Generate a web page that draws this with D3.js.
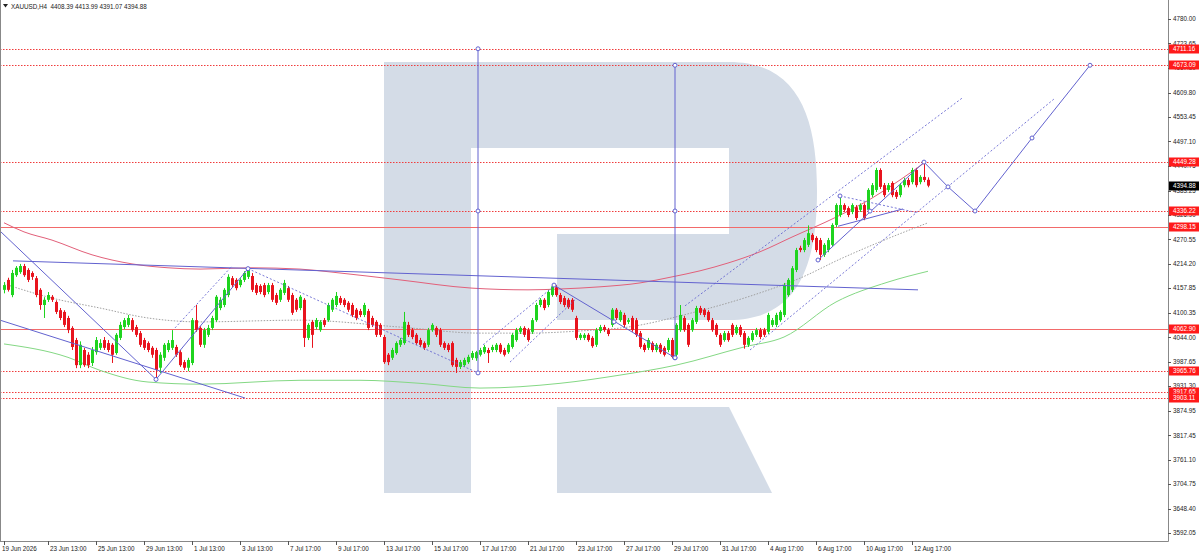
<!DOCTYPE html>
<html>
<head>
<meta charset="utf-8">
<script src="https://cdn.jsdelivr.net/npm/d3@7"></script>
<style>
  body { margin: 0; background: #fff; }
  svg { display: block; font-family: "Liberation Sans", Arial, sans-serif; }
</style>
</head>
<body>
<svg id="chart" width="1200" height="555"></svg>
<script>
// XAUUSD H4 candles, [open, high, low, close]
const candles = [
  [4154,4172,4146,4165],[4177,4182,4150,4154],[4142,4200,4137,4193],[4188,4209,4184,4205],
  [4195,4214,4191,4209],[4209,4214,4184,4188],[4200,4204,4172,4177],[4193,4197,4177,4184],
  [4181,4186,4137,4142],[4154,4158,4108,4119],[4119,4137,4089,4131],[4131,4149,4126,4142],
  [4138,4142,4126,4131],[4126,4130,4098,4103],[4107,4112,4084,4089],[4103,4107,4068,4073],
  [4089,4094,4054,4061],[4066,4070,4015,4022],[4038,4043,3973,3980],[3980,4035,3973,4027],
  [4015,4020,3976,3980],[4004,4010,3973,3980],[3985,4022,3978,4015],[4010,4045,4004,4038],
  [4020,4040,4015,4031],[4038,4045,4015,4020],[4031,4038,4010,4015],[4027,4031,3985,4004],
  [4008,4054,4004,4050],[4043,4080,4038,4073],[4068,4089,4063,4084],[4073,4096,4068,4089],
  [4084,4089,4057,4061],[4068,4073,4045,4050],[4054,4059,4022,4027],[4038,4043,4015,4020],
  [4031,4035,4010,4015],[4020,4024,3997,4004],[4015,4020,3947,3969],[3974,4010,3962,4004],
  [3997,4031,3990,4027],[4015,4038,4010,4031],[4020,4061,4015,4038],[4022,4027,3999,4004],
  [4010,4015,3976,3980],[3987,3992,3969,3974],[3974,3997,3966,3992],[3985,4089,3980,4084],
  [4084,4119,4057,4061],[4066,4070,4022,4027],[4027,4066,4020,4061],[4050,4073,4045,4066],
  [4066,4094,4061,4089],[4084,4142,4080,4138],[4112,4137,4107,4131],[4119,4158,4114,4154],
  [4142,4190,4137,4184],[4181,4186,4160,4165],[4177,4181,4153,4158],[4165,4181,4160,4177],
  [4177,4197,4172,4193],[4184,4204,4179,4200],[4186,4193,4149,4154],[4165,4170,4142,4147],
  [4163,4167,4144,4149],[4165,4170,4137,4142],[4149,4170,4144,4165],[4165,4170,4126,4131],
  [4142,4147,4119,4124],[4131,4158,4126,4154],[4147,4177,4142,4170],[4158,4163,4126,4131],
  [4142,4147,4096,4101],[4131,4135,4103,4108],[4112,4142,4107,4138],[4131,4135,4022,4043],
  [4043,4077,4038,4073],[4080,4084,4020,4050],[4068,4089,4063,4084],[4061,4084,4057,4080],
  [4084,4089,4068,4073],[4084,4124,4080,4119],[4108,4135,4103,4131],[4119,4149,4114,4140],
  [4135,4140,4119,4124],[4131,4135,4114,4119],[4124,4128,4103,4108],[4119,4124,4091,4096],
  [4108,4112,4084,4089],[4105,4110,4091,4096],[4096,4124,4091,4119],[4105,4110,4061,4066],
  [4089,4094,4068,4073],[4080,4084,4045,4050],[4073,4077,4045,4050],[4045,4050,3983,3987],
  [4004,4008,3980,3987],[3997,4020,3992,4015],[4008,4035,4004,4031],[4027,4043,4022,4038],
  [4031,4103,4027,4080],[4073,4080,4045,4050],[4061,4066,4040,4045],[4050,4054,4027,4031],
  [4038,4043,4022,4027],[4031,4035,4015,4020],[4027,4066,4022,4061],[4061,4077,4057,4073],
  [4066,4070,4045,4050],[4061,4066,4022,4027],[4031,4035,4015,4020],[4027,4031,4010,4015],
  [4031,4035,3976,3980],[3992,3997,3962,3976],[3976,3992,3971,3987],[3980,3997,3976,3992],
  [3987,4004,3983,3999],[3997,4013,3992,4008],[3996,4013,3990,4010],[4004,4020,4000,4015],
  [4010,4027,4006,4022],[4015,4020,3985,4008],[4015,4027,4010,4022],[4015,4031,4010,4027],
  [4027,4031,4006,4010],[4015,4020,4000,4004],[4010,4031,4006,4027],[4022,4054,4018,4050],
  [4038,4066,4034,4061],[4057,4070,4052,4066],[4066,4070,4045,4050],[4061,4066,4034,4038],
  [4057,4089,4052,4084],[4084,4124,4080,4119],[4119,4135,4114,4131],[4131,4135,4107,4112],
  [4119,4154,4114,4149],[4142,4166,4138,4162],[4160,4165,4138,4142],[4142,4147,4121,4126],
  [4135,4140,4114,4119],[4131,4135,4110,4114],[4131,4135,4103,4108],[4089,4094,4038,4043],
  [4043,4054,4038,4050],[4043,4054,4038,4050],[4050,4054,4034,4038],[4043,4047,4020,4024],
  [4027,4066,4022,4061],[4059,4073,4054,4068],[4068,4073,4057,4061],[4061,4066,4047,4052],
  [4073,4112,4068,4108],[4108,4112,4084,4089],[4084,4107,4080,4103],[4096,4101,4068,4073],
  [4080,4089,4075,4084],[4089,4094,4057,4061],[4084,4089,4045,4050],[4054,4059,4018,4022],
  [4027,4031,4010,4015],[4020,4043,4015,4038],[4031,4035,4010,4015],[4015,4031,4010,4027],
  [4027,4031,4006,4010],[4020,4024,4000,4004],[4015,4043,4010,4038],[4038,4043,3996,3999],
  [4004,4077,3999,4073],[4061,4119,4057,4096],[4089,4094,4057,4061],[4073,4077,4022,4027],
  [4061,4089,4057,4084],[4080,4117,4075,4112],[4112,4117,4096,4101],[4108,4112,4091,4096],
  [4103,4107,4080,4084],[4084,4089,4057,4061],[4073,4077,4045,4050],[4050,4054,4022,4027],
  [4038,4059,4034,4054],[4054,4059,4034,4038],[4073,4077,4045,4050],[4054,4073,4050,4068],
  [4068,4073,4045,4050],[4054,4059,4018,4027],[4027,4047,4022,4043],[4038,4059,4034,4054],
  [4050,4066,4045,4061],[4061,4066,4040,4045],[4061,4066,4045,4050],[4057,4101,4052,4096],
  [4073,4089,4068,4084],[4073,4101,4068,4096],[4084,4107,4080,4103],[4096,4170,4091,4165],
  [4142,4181,4138,4177],[4154,4209,4149,4204],[4200,4251,4195,4246],[4251,4256,4241,4246],
  [4246,4274,4241,4269],[4258,4303,4253,4285],[4281,4285,4264,4269],[4274,4278,4241,4246],
  [4269,4274,4223,4235],[4235,4262,4230,4258],[4246,4274,4241,4269],[4258,4308,4253,4304],
  [4304,4354,4299,4350],[4327,4373,4322,4350],[4350,4354,4334,4339],[4343,4347,4322,4327],
  [4334,4354,4329,4350],[4345,4350,4315,4320],[4339,4354,4334,4350],[4350,4354,4315,4320],
  [4339,4389,4334,4385],[4373,4401,4368,4396],[4385,4436,4380,4431],[4431,4435,4387,4392],
  [4396,4401,4368,4373],[4385,4401,4380,4396],[4401,4405,4368,4373],[4380,4385,4364,4369],
  [4373,4401,4368,4396],[4396,4413,4391,4408],[4408,4413,4391,4396],[4403,4436,4398,4431],
  [4431,4436,4391,4396],[4403,4419,4398,4415],[4415,4449,4403,4408],[4408.39,4413.99,4391.07,4394.88]
];

// time axis: bar index of each label
const timeTickIdx = [0, 11, 23, 35, 47, 59, 71, 83, 95, 107, 119, 131, 143, 155, 167, 179, 191, 203, 215, 227];
const timeTickLabels = ["19 Jun 2026", "23 Jun 13:00", "25 Jun 13:00", "29 Jun 13:00", "1 Jul 13:00", "3 Jul 13:00",
  "7 Jul 17:00", "9 Jul 17:00", "13 Jul 17:00", "15 Jul 17:00", "17 Jul 17:00", "21 Jul 17:00", "23 Jul 17:00",
  "27 Jul 17:00", "29 Jul 17:00", "31 Jul 17:00", "4 Aug 17:00", "6 Aug 17:00", "10 Aug 17:00", "12 Aug 17:00"];

const priceTicks = [4780.00, 4723.65, 4667.30, 4609.80, 4553.45, 4497.10, 4440.75, 4383.25, 4326.90, 4270.55,
  4214.20, 4157.85, 4100.35, 4044.00, 3987.65, 3931.30, 3874.95, 3817.45, 3761.10, 3704.75, 3648.40, 3592.05];

const dottedLevels = [4711.16, 4673.09, 4449.28, 4336.22, 3965.76, 3917.65, 3903.11];
const solidLevels = [4298.15, 4062.90];
const lastPrice = 4394.88;

// moving averages, [bar index, value]
const maRed = [[0,4309],[5,4288],[12,4269],[22,4235],[32,4214],[41,4205],[49,4202],[62,4205],[74,4202],
  [82,4195],[99,4177],[117,4158],[131,4154],[139,4156],[149,4161],[159,4170],[167,4184],[174,4198],
  [181,4216],[189,4242],[197,4276],[208,4322],[217,4366],[224,4408],[230,4447]];
const maGreen = [[0,4029],[16,3998],[24,3968],[36,3941],[49,3936],[74,3945],[89,3945],[104,3938],[119,3927],
  [139,3938],[154,3957],[168,3980],[185,4022],[195,4045],[208,4126],[221,4172],[231,4197]];
const maGray = [[0,4168],[12,4135],[24,4112],[36,4089],[49,4080],[74,4084],[99,4068],[119,4054],[131,4054],
  [144,4059],[156,4068],[172,4101],[189,4147],[199,4181],[209,4225],[219,4265],[231,4309]];

// blue drawings, segments of [bar index, price]
const blueSolid = [
  [[-1,4290],[38,3947]],
  [[-1,4084],[60.25,3904]],
  [[2.25,4221],[228.5,4154]],
  [[38,3947],[61,4203]],
  [[137.5,4165],[167.75,3997]],
  [[203.5,4223],[230,4449.28]],
  [[208.5,4301],[224.75,4341]]
];
const blueDotted = [
  [[61,4203],[118.5,3962]],
  [[42.75,4066],[57,4209]],
  [[119.75,4027],[137.25,4161]],
  [[126.5,3987],[142.75,4131]],
  [[170.25,4117],[239.5,4597]],
  [[186.5,4015],[262.75,4597]],
  [[209,4371],[228.5,4332]]
];
const verticals = [[118.5, 3962, 4336.22, 4711.16], [167.75, 3997, 4336.22, 4673.09]];
const forecast = [[230,4449.28],[236,4392],[242.75,4336.22],[257,4505],[271.5,4673.09]];
const pivots = [[38,3947],[61,4203],[137.5,4165],[152.5,4080],[167.75,3997],[203.5,4223],[209,4371],[216.5,4336]];

const W = 1200, H = 555;
const plotR = 1168, plotB = 541;
const blue = "#6262cf";

const x = d3.scaleLinear().domain([0, candles.length - 1]).range([4, 928]);
const y = d3.scaleLinear().domain([3592.05, 4780]).range([533, 19]);

const svg = d3.select("#chart");
svg.append("rect").attr("width", W).attr("height", H).attr("fill", "#fff");

svg.append("defs").append("clipPath").attr("id", "plot")
  .append("rect").attr("x", 0).attr("y", 0).attr("width", plotR).attr("height", plotB);

const plot = svg.append("g").attr("clip-path", "url(#plot)");

// watermark logo
plot.append("path")
  .attr("d", "M384,62 H729 C800,62 817,120 817,191 C817,262 800,320 729,320 H557 V234 H729 V148 H471 V493 H384 Z M557,407 H729 L772,493 H557 Z")
  .attr("fill", "#d4dce7");

// horizontal levels
plot.selectAll(".lvl-dot").data(dottedLevels).join("line")
  .attr("x1", 0).attr("x2", plotR)
  .attr("y1", d => Math.round(y(d)) + 0.5).attr("y2", d => Math.round(y(d)) + 0.5)
  .attr("stroke", "#f03c3c").attr("stroke-width", 1).attr("stroke-dasharray", "1.5,1.5");
plot.selectAll(".lvl-sol").data(solidLevels).join("line")
  .attr("x1", 0).attr("x2", plotR)
  .attr("y1", d => Math.round(y(d)) + 0.5).attr("y2", d => Math.round(y(d)) + 0.5)
  .attr("stroke", "#f26a6a").attr("stroke-width", 1);

// moving averages
const maLine = d3.line().x(d => x(d[0])).y(d => y(d[1])).curve(d3.curveMonotoneX);
plot.append("path").attr("d", maLine(maGray)).attr("fill", "none")
  .attr("stroke", "#a0a0a0").attr("stroke-width", 1).attr("stroke-dasharray", "1.5,1.5");
plot.append("path").attr("d", maLine(maGreen)).attr("fill", "none")
  .attr("stroke", "#84d884").attr("stroke-width", 1);
plot.append("path").attr("d", maLine(maRed)).attr("fill", "none")
  .attr("stroke", "#e2607a").attr("stroke-width", 1);

// candles
const up = "#1fd41f", down = "#e8141e";
const cg = plot.append("g");
cg.selectAll("line").data(candles).join("line")
  .attr("x1", (d, i) => Math.round(x(i)) + 0.5).attr("x2", (d, i) => Math.round(x(i)) + 0.5)
  .attr("y1", d => y(d[1])).attr("y2", d => y(d[2]))
  .attr("stroke", d => d[3] >= d[0] ? up : down).attr("stroke-width", 1);
cg.selectAll("rect").data(candles).join("rect")
  .attr("x", (d, i) => Math.round(x(i)) - 1)
  .attr("width", 3)
  .attr("y", d => y(Math.max(d[0], d[3])))
  .attr("height", d => Math.max(1, Math.abs(y(d[0]) - y(d[3]))))
  .attr("fill", d => d[3] >= d[0] ? up : down);

// blue drawings
const seg = d3.line().x(d => x(d[0])).y(d => y(d[1]));
plot.selectAll(".bs").data(blueSolid).join("path")
  .attr("d", seg).attr("fill", "none").attr("stroke", blue).attr("stroke-width", 1);
plot.selectAll(".bd").data(blueDotted).join("path")
  .attr("d", seg).attr("fill", "none").attr("stroke", blue).attr("stroke-width", 1)
  .attr("stroke-dasharray", "2,2").attr("opacity", 0.85);
plot.selectAll(".vl").data(verticals).join("line")
  .attr("x1", d => x(d[0])).attr("x2", d => x(d[0]))
  .attr("y1", d => y(d[1])).attr("y2", d => y(d[3]))
  .attr("stroke", blue).attr("stroke-width", 1);
plot.append("path").attr("d", seg(forecast)).attr("fill", "none").attr("stroke", blue).attr("stroke-width", 1);

const markPts = pivots.concat(forecast)
  .concat(verticals.flatMap(v => [[v[0], v[1]], [v[0], v[2]], [v[0], v[3]]]));
plot.selectAll(".pv").data(markPts).join("circle")
  .attr("cx", d => x(d[0])).attr("cy", d => y(d[1])).attr("r", 2)
  .attr("fill", "#fff").attr("stroke", blue).attr("stroke-width", 1);

// frame
svg.append("line").attr("x1", 0.5).attr("x2", 0.5).attr("y1", 0).attr("y2", plotB).attr("stroke", "#888");
svg.append("line").attr("x1", plotR + 0.5).attr("x2", plotR + 0.5).attr("y1", 0).attr("y2", plotB + 0.5).attr("stroke", "#888");
svg.append("line").attr("x1", 0).attr("x2", plotR + 0.5).attr("y1", plotB + 0.5).attr("y2", plotB + 0.5).attr("stroke", "#888");

// price axis
const fs = "6.3px";
const ya = svg.append("g");
ya.selectAll("line").data(priceTicks).join("line")
  .attr("x1", plotR).attr("x2", plotR + 3)
  .attr("y1", d => Math.round(y(d)) + 0.5).attr("y2", d => Math.round(y(d)) + 0.5)
  .attr("stroke", "#555");
ya.selectAll("text").data(priceTicks).join("text")
  .attr("x", plotR + 5).attr("y", d => y(d)).attr("dy", "0.35em")
  .attr("font-size", fs).attr("fill", "#222")
  .text(d => d.toFixed(2));

// time axis
const xa = svg.append("g");
xa.selectAll("line").data(timeTickIdx).join("line")
  .attr("x1", d => Math.round(x(d)) + 0.5).attr("x2", d => Math.round(x(d)) + 0.5)
  .attr("y1", plotB).attr("y2", plotB + 4).attr("stroke", "#555");
xa.selectAll("text").data(timeTickIdx).join("text")
  .attr("x", (d, i) => i === 0 ? 2 : x(d) + 2).attr("y", 551)
  .attr("font-size", fs).attr("fill", "#222")
  .text((d, i) => timeTickLabels[i]);

// level price tags
const tags = dottedLevels.concat(solidLevels).map(v => ({ v, fill: "#ff1a1a" }))
  .concat([{ v: lastPrice, fill: "#000" }]);
const tg = svg.selectAll(".tag").data(tags).join("g")
  .attr("transform", d => `translate(${plotR + 1},${Math.round(y(d.v))})`);
tg.append("rect").attr("x", 0).attr("y", -4.5).attr("width", 30).attr("height", 9).attr("fill", d => d.fill);
tg.append("text").attr("x", 4).attr("y", 0).attr("dy", "0.35em")
  .attr("font-size", fs).attr("fill", "#fff").text(d => d.v.toFixed(2));

// title
svg.append("path").attr("d", "M3,4 L8,4 L5.5,7.5 Z").attr("fill", "#222");
svg.append("text").attr("x", 11).attr("y", 8.5).attr("font-size", fs).attr("fill", "#222")
  .attr("xml:space", "preserve")
  .text("XAUUSD,H4  4408.39 4413.99 4391.07 4394.88");
</script>
</body>
</html>
